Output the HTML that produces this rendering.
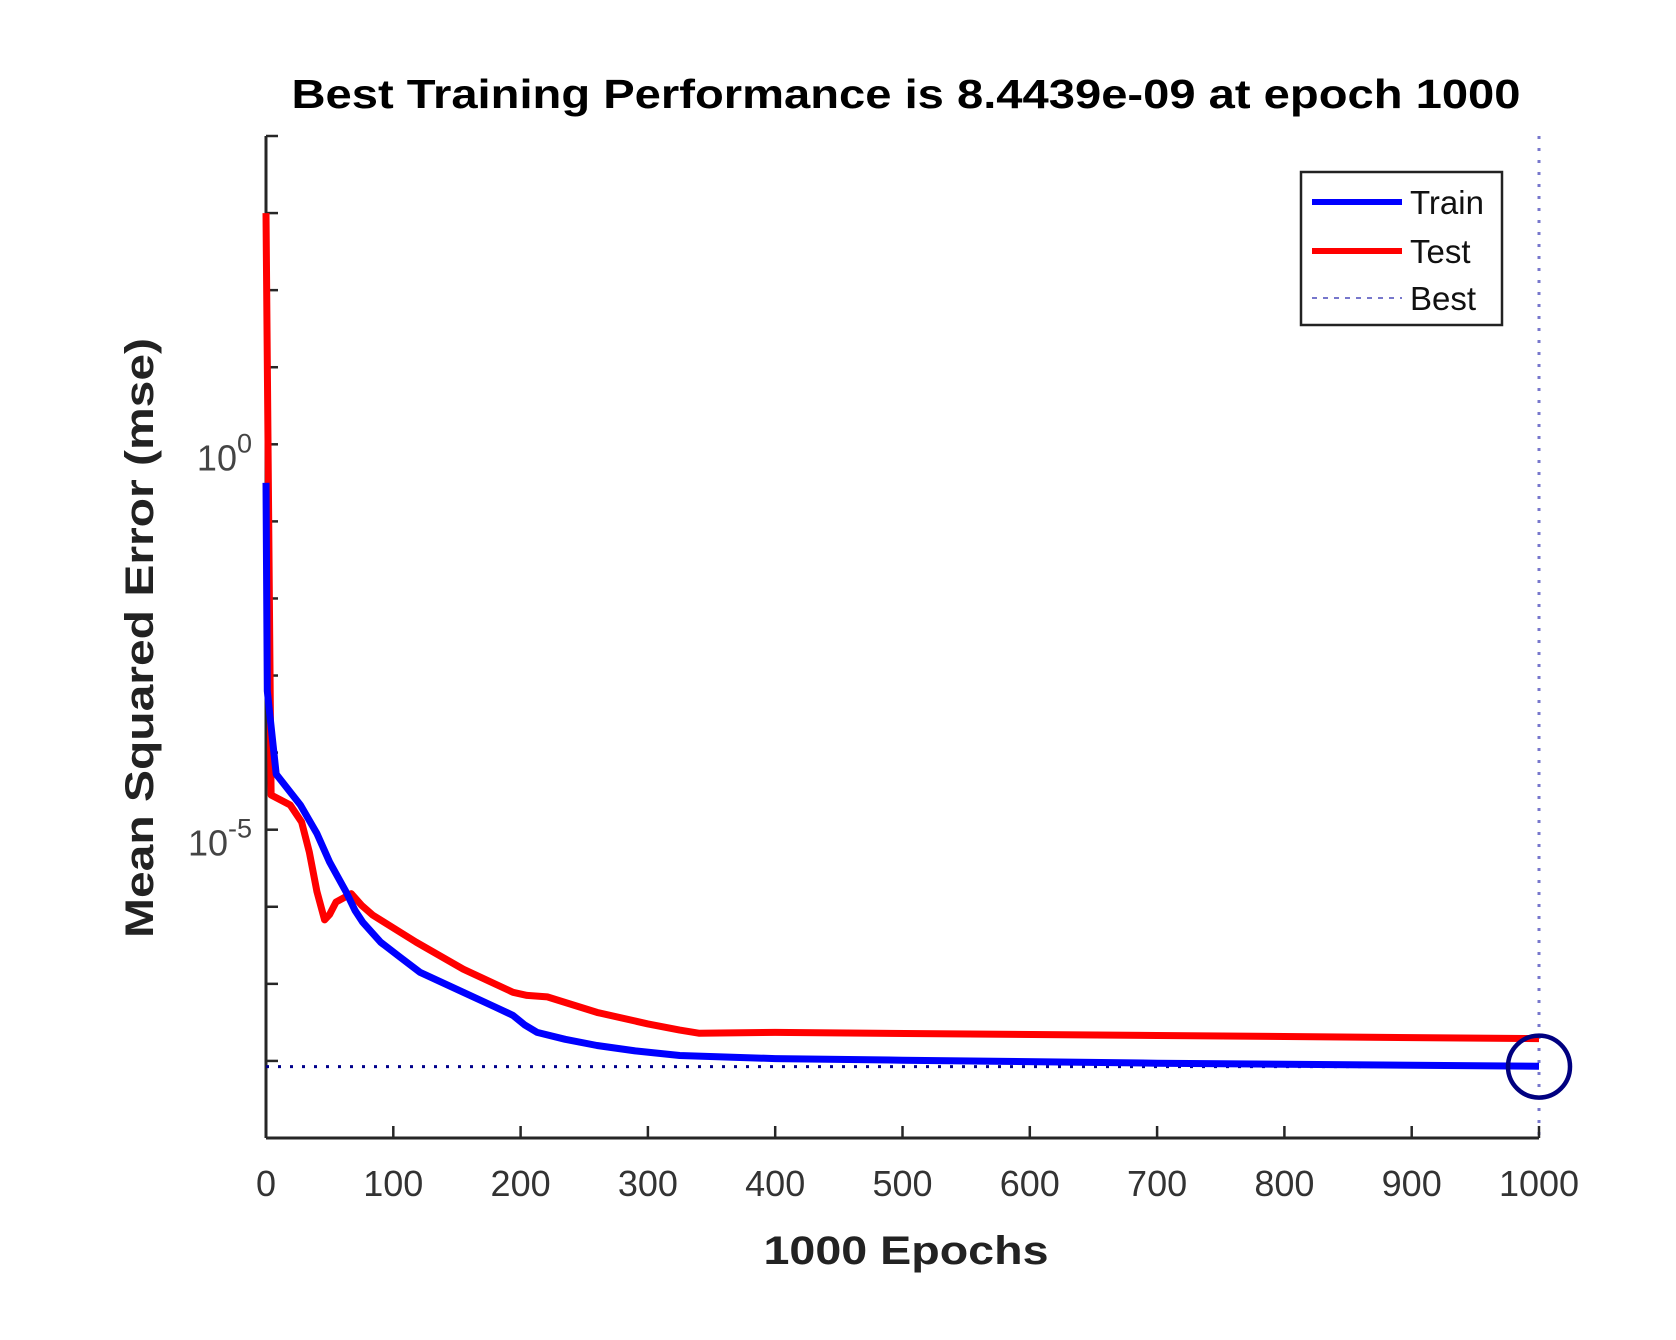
<!DOCTYPE html>
<html><head><meta charset="utf-8"><style>
html,body{margin:0;padding:0;background:#fff;}
svg{display:block;}
</style></head><body>
<svg id="chart" width="1676" height="1340" viewBox="0 0 1676 1340" xmlns="http://www.w3.org/2000/svg" font-family="'Liberation Sans', sans-serif">
<rect width="1676" height="1340" fill="#fff"/>
<text x="906" y="108" text-anchor="middle" font-size="41" font-weight="bold" fill="#000" textLength="1229" lengthAdjust="spacingAndGlyphs">Best Training Performance is 8.4439e-09 at epoch 1000</text>
<g id="axes"></g>
<g id="series"></g>
<text x="906" y="1264" text-anchor="middle" font-size="40" font-weight="bold" fill="#222" textLength="285" lengthAdjust="spacingAndGlyphs">1000 Epochs</text>
<text transform="translate(153,638) rotate(-90)" text-anchor="middle" font-size="40" font-weight="bold" fill="#222" textLength="600" lengthAdjust="spacingAndGlyphs">Mean Squared Error  (mse)</text>
<g>
<rect x="1301" y="172" width="201" height="153" fill="#fff" stroke="#222" stroke-width="2.5"/>
<line x1="1312" y1="202" x2="1402" y2="202" stroke="#0000ff" stroke-width="6"/>
<text x="1410" y="214" font-size="33" fill="#111">Train</text>
<line x1="1312" y1="251" x2="1402" y2="251" stroke="#ff0000" stroke-width="6"/>
<text x="1410" y="263" font-size="33" fill="#111">Test</text>
<line x1="1312" y1="298" x2="1402" y2="298" stroke="#7777cc" stroke-width="2" stroke-dasharray="5,6"/>
<text x="1410" y="310" font-size="33" fill="#111">Best</text>
</g>
</svg>
<script>
const xTicks = [0,100,200,300,400,500,600,700,800,900,1000];
const yTickExps = [-9,-8,-7,-6,-5,-4,-3,-2,-1,0,1,2,3,4];
const yLabelExps = [-5,0];
const trainEpochs = [0,1,8,27,40,50,63,70,76,90,105,121,155,180,194,203,213,235,260,290,325,400,500,700,1000];
const trainLog = [-0.5,-3.2,-4.28,-4.68,-5.05,-5.42,-5.81,-6.05,-6.2,-6.46,-6.65,-6.85,-7.11,-7.3,-7.41,-7.53,-7.63,-7.72,-7.8,-7.87,-7.93,-7.97,-7.99,-8.03,-8.07];
const testEpochs = [0,4,19,28,34,40,46,50,55,67,75,84,118,155,194,205,221,260,300,325,340,400,700,1000];
const testLog = [3,-4.55,-4.68,-4.9,-5.29,-5.8,-6.17,-6.1,-5.94,-5.83,-5.98,-6.11,-6.46,-6.81,-7.11,-7.15,-7.17,-7.37,-7.52,-7.6,-7.64,-7.63,-7.67,-7.71];
const bestEpoch = [1000];
const bestValue = [8.4439e-9];

const X0=266,X1=1539,Y0=136,Y1=1138,LMIN=-9,LMAX=4;
const xs=e=>X0+(e/1000)*(X1-X0);
const ys=l=>Y1-(l-LMIN)/(LMAX-LMIN)*(Y1-Y0);
const NS="http://www.w3.org/2000/svg";
function mk(tag,attrs,parent){const el=document.createElementNS(NS,tag);for(const k in attrs)el.setAttribute(k,attrs[k]);parent.appendChild(el);return el;}
const ax=document.getElementById('axes'), se=document.getElementById('series');

const bl=Math.log10(bestValue[0]);
let el=mk('line',{x1:xs(bestEpoch[0]),y1:Y0,x2:xs(bestEpoch[0]),y2:Y1,stroke:'#7777cc','stroke-width':3,'stroke-dasharray':'3,9'},ax);



el=mk('line',{x1:X0,y1:Y1,x2:X1,y2:Y1,stroke:'#262626','stroke-width':3},ax);


el=mk('line',{x1:X0,y1:Y0,x2:X0,y2:Y1,stroke:'#262626','stroke-width':3},ax);



xTicks.forEach(t=>{
  const l=mk('line',{x1:xs(t),y1:Y1,x2:xs(t),y2:Y1-12,stroke:'#262626','stroke-width':2.5},ax);
  
  
  const tx=mk('text',{x:xs(t),y:1196,'text-anchor':'middle','font-size':36,fill:'#333'},ax);
  tx.textContent=String(t);
  
  
});
yTickExps.forEach(t=>{
  const l=mk('line',{x1:X0,y1:ys(t),x2:X0+12,y2:ys(t),stroke:'#262626','stroke-width':2.5},ax);
  
  
});
yLabelExps.forEach(t=>{
  const tx=mk('text',{x:252,y:ys(t)+26,'text-anchor':'end','font-size':36,fill:'#444'},ax);
  
  
  const a=document.createElementNS(NS,'tspan');a.textContent='10';tx.appendChild(a);
  const b=document.createElementNS(NS,'tspan');b.setAttribute('dy','-18');b.setAttribute('font-size','27');b.textContent=String(t);tx.appendChild(b);
});

function pathOf(ep,lg){return ep.map((e,i)=>(i?'L':'M')+xs(e).toFixed(1)+','+ys(lg[i]).toFixed(1)).join(' ');}
el=mk('line',{x1:X0,y1:ys(bl),x2:X1,y2:ys(bl),stroke:'#00008b','stroke-width':3,'stroke-dasharray':'3,9'},se);


el=mk('path',{d:pathOf(testEpochs,testLog),fill:'none',stroke:'#ff0000','stroke-width':7,'stroke-linejoin':'round'},se);


el=mk('path',{d:pathOf(trainEpochs,trainLog),fill:'none',stroke:'#0000ff','stroke-width':7,'stroke-linejoin':'round'},se);


el=mk('circle',{cx:xs(bestEpoch[0]),cy:ys(bl),r:31,fill:'none',stroke:'#000080','stroke-width':4.5},se);


</script>
</body></html>
